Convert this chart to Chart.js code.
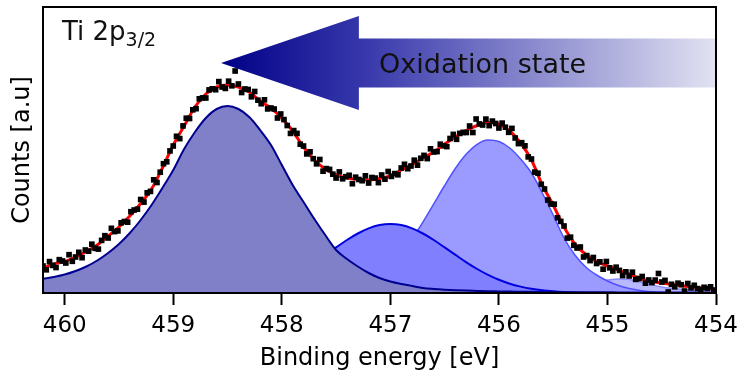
<!DOCTYPE html>
<html>
<head>
<meta charset="utf-8">
<script src="https://cdn.jsdelivr.net/npm/chart.js@4.4.1/dist/chart.umd.min.js"></script>
<style>
  html, body { margin: 0; padding: 0; background: #fff; }
  #wrap { width: 748px; height: 375px; }
</style>
</head>
<body>
<div id="wrap"><canvas id="xps"></canvas></div>
<script>
// Binding energy grid of the fitted curves (eV)
const gridEnergy = [
  460.2, 460.1, 460.0, 459.9, 459.8, 459.7, 459.6, 459.5, 459.4, 459.3,
  459.2, 459.1, 459.0, 458.9, 458.8, 458.7, 458.6, 458.5, 458.4, 458.3,
  458.2, 458.1, 458.0, 457.9, 457.8, 457.7, 457.6, 457.5, 457.4, 457.3,
  457.2, 457.1, 457.0, 456.9, 456.8, 456.7, 456.6, 456.5, 456.4, 456.3,
  456.2, 456.1, 456.0, 455.9, 455.8, 455.7, 455.6, 455.5, 455.4, 455.3,
  455.2, 455.1, 455.0, 454.9, 454.8, 454.7, 454.6, 454.5, 454.4, 454.3,
  454.2, 454.1, 454.0
];

// fitted components (a.u.)
const peakTi4 = [
  14, 16, 18.5, 22, 26.5, 32.5, 40, 49, 60, 73,
  88, 105, 123, 144, 161, 175, 184, 187, 184, 176,
  163, 148, 128, 108, 91, 74, 58, 43, 34, 26.5,
  20, 15, 11.5, 9, 7, 5, 4, 3.3, 2.8, 2.4,
  2.1, 1.8, 1.6, 1.4, 1.3, 1.2, 1.1, 1.0, 0.9, 0.8,
  0.8, 0.7, 0.7, 0.6, 0.6, 0.5, 0.5, 0.5, 0.4, 0.4,
  0.4, 0.3, 0.3
];
const peakTi3 = [
  0, 0, 0, 0, 0, 0, 0, 0, 0, 0,
  0, 0, 0.1, 0.2, 0.3, 0.6, 1.0, 1.7, 2.7, 4.2,
  6.4, 9.3, 13.2, 18.1, 24.0, 30.7, 38.1, 45.6, 53.0, 59.5,
  64.6, 67.9, 69.0, 67.9, 64.6, 59.5, 53.0, 45.6, 38.1, 30.7,
  24.0, 18.1, 13.2, 9.3, 6.4, 4.2, 2.7, 1.7, 1.0, 0.6,
  0.3, 0.2, 0.1, 0, 0, 0, 0, 0, 0, 0,
  0, 0, 0
];
const peakTi2 = [
  0, 0, 0, 0, 0, 0, 0, 0, 0, 0,
  0, 0, 0, 0, 0, 0, 0, 0, 0, 0,
  0, 0, 0.1, 0.2, 0.4, 0.8, 1.5, 2.7, 4.7, 7.8,
  12.5, 19.1, 28.2, 39.9, 54.3, 70.9, 89.1, 107.5, 124.7, 138.9,
  148.7, 153, 151.5, 145, 134, 120, 100, 78, 55, 38,
  26, 18, 12, 7.5, 4.5, 2.5, 1.3, 0.7, 0.3, 0.1,
  0, 0, 0
];
const peakSat = [
  0, 0, 0, 0, 0, 0, 0, 0, 0, 0,
  0, 0, 0, 0, 0, 0, 0, 0, 0, 0,
  0, 0, 0, 0, 0, 0, 0, 0, 0, 0,
  0, 0, 0, 0, 0, 0, 0, 0, 0, 0,
  0, 0.2, 0.5, 1.0, 1.5, 2.5, 3.5, 5.5, 7.0, 8.5,
  10.0, 11.5, 13.0, 14.0, 13.5, 11.0, 8.5, 6.0, 4.5, 3.5,
  3.0, 2.5, 2.0
];
const envelope = [
  25, 29, 31.5, 36, 41.5, 48, 57, 66, 77, 89.5,
  104, 125, 148, 167, 186, 199, 206, 208, 206, 201,
  192, 185, 175, 162, 146, 133, 124, 118, 115, 113.5,
  113, 114.5, 117, 123, 128.5, 135, 141, 149, 156, 162.5,
  167.5, 170.5, 169, 162, 150, 133, 108, 88, 66, 49,
  38.5, 31.5, 27, 23, 19, 14.5, 11.5, 10, 8.5, 7,
  5.7, 4.6, 3.7
];

// measured spectrum
const measEnergy = [
  460.20, 460.17, 460.14, 460.11, 460.08, 460.05, 460.02, 459.99, 459.96, 459.93,
  459.90, 459.87, 459.84, 459.81, 459.78, 459.75, 459.72, 459.69, 459.66, 459.63,
  459.60, 459.57, 459.54, 459.51, 459.48, 459.45, 459.42, 459.39, 459.36, 459.33,
  459.30, 459.27, 459.24, 459.21, 459.18, 459.15, 459.12, 459.09, 459.06, 459.03,
  459.00, 458.97, 458.94, 458.91, 458.88, 458.85, 458.82, 458.79, 458.76, 458.73,
  458.70, 458.67, 458.64, 458.61, 458.58, 458.55, 458.52, 458.49, 458.46, 458.43,
  458.40, 458.37, 458.34, 458.31, 458.28, 458.25, 458.22, 458.19, 458.16, 458.13,
  458.10, 458.07, 458.04, 458.01, 457.98, 457.95, 457.92, 457.89, 457.86, 457.83,
  457.80, 457.77, 457.74, 457.71, 457.68, 457.65, 457.62, 457.59, 457.56, 457.53,
  457.50, 457.47, 457.44, 457.41, 457.38, 457.35, 457.32, 457.29, 457.26, 457.23,
  457.20, 457.17, 457.14, 457.11, 457.08, 457.05, 457.02, 456.99, 456.96, 456.93,
  456.90, 456.87, 456.84, 456.81, 456.78, 456.75, 456.72, 456.69, 456.66, 456.63,
  456.60, 456.57, 456.54, 456.51, 456.48, 456.45, 456.42, 456.39, 456.36, 456.33,
  456.30, 456.27, 456.24, 456.21, 456.18, 456.15, 456.12, 456.09, 456.06, 456.03,
  456.00, 455.97, 455.94, 455.91, 455.88, 455.85, 455.82, 455.79, 455.76, 455.73,
  455.70, 455.67, 455.64, 455.61, 455.58, 455.55, 455.52, 455.49, 455.46, 455.43,
  455.40, 455.37, 455.34, 455.31, 455.28, 455.25, 455.22, 455.19, 455.16, 455.13,
  455.10, 455.07, 455.04, 455.01, 454.98, 454.95, 454.92, 454.89, 454.86, 454.83,
  454.80, 454.77, 454.74, 454.71, 454.68, 454.65, 454.62, 454.59, 454.56, 454.53,
  454.50, 454.47, 454.44, 454.41, 454.38, 454.35, 454.32, 454.29, 454.26, 454.23,
  454.20, 454.17, 454.14, 454.11, 454.08, 454.05, 454.02
];
const measCounts = [
  27, 23.2, 31.4, 27.6, 25.5, 33.3, 32, 30, 38.3, 31.7,
  36, 40.7, 35.3, 43, 41.8, 48.8, 44.7, 43.9, 52.6, 57.3,
  55, 64.7, 61.4, 62.1, 70.2, 71.5, 70.8, 81.3, 83, 83.8,
  93.5, 90.9, 100.2, 101.6, 113.2, 110.5, 120.8, 129.3, 131.2, 142.1,
  147, 156.7, 154.4, 167.1, 174.8, 174.5, 183.2, 184.3, 194.2, 195.1,
  195, 203.1, 204.2, 203.3, 211.4, 206, 204.6, 211.8, 207.2, 222,
  209, 200.5, 204, 203.5, 196.2, 201.5, 192.8, 189.3, 193.2, 184.1,
  185, 184, 175, 179, 173.4, 167.5, 159.6, 162.4, 159.6, 148.8,
  147, 139.1, 141.2, 134.3, 129.2, 133.5, 121.8, 124.4, 123.6, 118.8,
  115, 121.1, 114.2, 116.3, 117.7, 109.3, 115.8, 113.5, 112.3, 117.2,
  110, 115.5, 114.9, 110.4, 118, 113.8, 121.5, 116.6, 119.4, 118.2,
  125, 128.7, 124.3, 127, 132.8, 127.8, 134.7, 137.6, 134.4, 144.2,
  141, 141.4, 148.8, 147.2, 146.4, 154.5, 158.6, 153.7, 159.6, 160.6,
  160.5, 167, 160.5, 174, 169.1, 168, 173.9, 167.4, 171.9, 169.5,
  165, 169.9, 165.8, 160.7, 164.6, 155, 149.4, 150.3, 147.2, 136.1,
  134, 120.9, 119.8, 108.7, 104, 93, 89, 88.8, 75.2, 71.6,
  67, 54.9, 55.8, 47.7, 45, 46, 36, 37.4, 32.4, 35.5,
  29.5, 31.2, 23.8, 31.5, 25.2, 22, 25.8, 22.6, 17.4, 21.2,
  17, 20.8, 13.6, 14.4, 16.5, 9.8, 13, 10.4, 12.9, 19.5,
  11, 12.6, 1.0, 8.7, 6.2, 9.8, 8.3, 2.0, 9.5, 5.1,
  7.7, 4.4, 3.0, 5.7, 4.4, 6.2, 2.9
];

const xTicks = [460, 459, 458, 457, 456, 455, 454];

// "oxidation state" arrow, in energy / counts units
const arrowTip = 458.56, arrowNeck = 457.29, arrowTail = 454.0;
const arrowAxis = 230, arrowHead = 47, arrowShaft = 24.5;

const FONT = '"DejaVu Sans", sans-serif';

function pts(xs, ys) {
  return xs.map((x, i) => ({ x: x, y: ys[i] }));
}

function component(data, fill, line, width, order) {
  return {
    data: pts(gridEnergy, data),
    backgroundColor: fill,
    borderColor: line,
    borderWidth: width,
    fill: 'origin',
    pointRadius: 0,
    cubicInterpolationMode: 'monotone',
    order: order
  };
}

const decorations = {
  id: 'decorations',
  afterDatasetsDraw(chart) {
    const { ctx, chartArea: a, scales: { x, y } } = chart;
    ctx.save();

    // arrow with fading fill
    const tx = x.getPixelForValue(arrowTip);
    const nx = x.getPixelForValue(arrowNeck);
    const ex = x.getPixelForValue(arrowTail);
    const cy = y.getPixelForValue(arrowAxis);
    const hTop = y.getPixelForValue(arrowAxis + arrowHead);
    const hBot = y.getPixelForValue(arrowAxis - arrowHead);
    const sTop = y.getPixelForValue(arrowAxis + arrowShaft);
    const sBot = y.getPixelForValue(arrowAxis - arrowShaft);
    const grad = ctx.createLinearGradient(tx, 0, ex, 0);
    grad.addColorStop(0, '#000088');
    grad.addColorStop(0.3, '#3a3aad');
    grad.addColorStop(1, '#e2e2f2');
    ctx.fillStyle = grad;
    ctx.beginPath();
    ctx.moveTo(tx, cy);
    ctx.lineTo(nx, hTop);
    ctx.lineTo(nx, sTop);
    ctx.lineTo(ex, sTop);
    ctx.lineTo(ex, sBot);
    ctx.lineTo(nx, sBot);
    ctx.lineTo(nx, hBot);
    ctx.closePath();
    ctx.fill();

    ctx.fillStyle = '#111';
    ctx.font = '27px ' + FONT;
    ctx.textAlign = 'center';
    ctx.textBaseline = 'alphabetic';
    ctx.fillText('Oxidation state', x.getPixelForValue(456.15), cy + 10);

    // panel label
    ctx.textAlign = 'left';
    ctx.font = '26px ' + FONT;
    const lx = a.left + 19;
    ctx.fillText('Ti 2p', lx, a.top + 32.5);
    const w = ctx.measureText('Ti 2p').width;
    ctx.font = '19px ' + FONT;
    ctx.fillText('3/2', lx + w, a.top + 39);

    // frame
    ctx.strokeStyle = '#000';
    ctx.lineWidth = 2;
    ctx.strokeRect(a.left, a.top, a.right - a.left, a.bottom - a.top);
    ctx.restore();
  }
};

new Chart(document.getElementById('xps'), {
  type: 'line',
  data: {
    datasets: [
      {
        data: pts(measEnergy, measCounts),
        showLine: false,
        pointStyle: 'rect',
        pointRadius: 4,
        pointBackgroundColor: '#000',
        pointBorderWidth: 0,
        order: 1
      },
      {
        data: pts(gridEnergy, envelope),
        borderColor: '#ff0000',
        borderWidth: 3,
        fill: false,
        pointRadius: 0,
        cubicInterpolationMode: 'monotone',
        order: 2
      },
      component(peakTi4, '#8080c8', '#000090', 2, 3),
      component(peakTi3, '#8080ff', '#0000e0', 2, 4),
      component(peakTi2, '#9b9bff', '#5050ff', 1.5, 5),
      component(peakSat, '#b8b8ff', '#8c8cff', 1.5, 6)
    ]
  },
  options: {
    responsive: true,
    maintainAspectRatio: false,
    animation: false,
    layout: { padding: { top: 7, right: 32, left: 0, bottom: 0 } },
    plugins: { legend: { display: false }, tooltip: { enabled: false } },
    scales: {
      x: {
        type: 'linear',
        reverse: true,
        min: 454,
        max: 460.2,
        afterBuildTicks: s => { s.ticks = xTicks.map(v => ({ value: v })); },
        afterFit: s => { s.height = 82; },
        ticks: { color: '#000', font: { family: FONT, size: 23 }, padding: 7, maxRotation: 0 },
        grid: { drawOnChartArea: false, tickLength: 12, tickWidth: 2, tickColor: '#000' },
        border: { color: '#000', width: 2 },
        title: {
          display: true, text: 'Binding energy [eV]', color: '#000',
          font: { family: FONT, size: 24 }, padding: { top: 0, bottom: 2 }
        }
      },
      y: {
        min: 0,
        max: 286,
        afterFit: s => { s.width = 43; },
        ticks: { display: false },
        grid: { display: false },
        border: { color: '#000', width: 2 },
        title: {
          display: true, text: 'Counts [a.u]', color: '#000',
          font: { family: FONT, size: 24 }, padding: { top: 8, bottom: 0 }
        }
      }
    }
  },
  plugins: [decorations]
});
</script>
</body>
</html>
